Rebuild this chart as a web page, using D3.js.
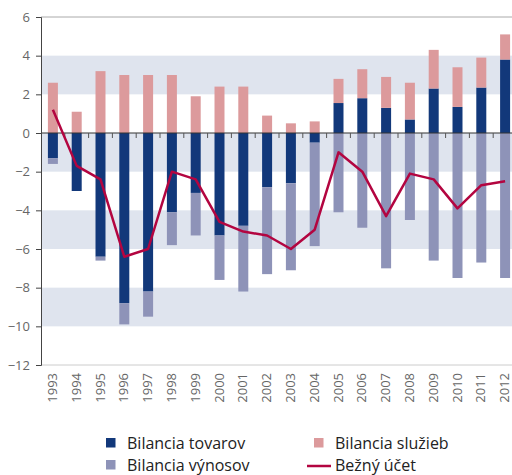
<!DOCTYPE html>
<html>
<head>
<meta charset="utf-8">
<script src="https://cdn.jsdelivr.net/npm/d3@7"></script>
<style>
  body { margin: 0; background: #fff; }
  text { font-family: 'Open Sans', sans-serif; }
</style>
</head>
<body>
<div id="chart"></div>
<script>
const years = ['1993', '1994', '1995', '1996', '1997', '1998', '1999', '2000', '2001', '2002',
  '2003', '2004', '2005', '2006', '2007', '2008', '2009', '2010', '2011', '2012']

const goods = [-1.3, -3.0, -6.4, -8.8, -8.2, -4.1, -3.1, -5.3, -4.8, -2.8,
  -2.6, -0.5, 1.55, 1.8, 1.3, 0.7, 2.3, 1.35, 2.35, 3.8]
const services = [2.6, 1.1, 3.2, 3.0, 3.0, 3.0, 1.9, 2.4, 2.4, 0.9,
  0.5, 0.6, 1.25, 1.5, 1.6, 1.9, 2.0, 2.05, 1.55, 1.3]
const income = [-0.3, 0, -0.2, -1.1, -1.3, -1.7, -2.2, -2.3, -3.4, -4.5,
  -4.5, -5.35, -4.1, -4.9, -7.0, -4.5, -6.6, -7.5, -6.7, -7.5]
const currentAccount = [1.2, -1.7, -2.4, -6.4, -6.0, -2.0, -2.4, -4.6, -5.1, -5.3,
  -6.0, -5.0, -1.0, -2.0, -4.3, -2.1, -2.4, -3.9, -2.7, -2.5]

const yTicks = [6, 4, 2, 0, -2, -4, -6, -8, -10, -12]
const bands = [[2, 4], [-2, 0], [-6, -4], [-10, -8]]

const colors = { goods: '#12387a', services: '#dc9a9c', income: '#8e93b8', line: '#b30540' }

const margin = { top: 17, left: 41, right: -5, bottom: 110 }
const width = 512 - margin.left - margin.right
const height = 475 - margin.top - margin.bottom

const svg = d3
  .select('#chart')
  .append('svg')
  .attr('width', 512)
  .attr('height', 475)

const g = svg
  .append('g')
  .attr('transform', 'translate(' + margin.left + ',' + margin.top + ')')

const x = d3.scaleBand().domain(years).range([0, width]).paddingInner(0.58).paddingOuter(0.29)
const xStep = d3.scaleBand().domain(years).range([0, width])
const y = d3.scaleLinear().domain([-12, 6]).range([height, 0])

// background bands
g.selectAll('.band')
  .data(bands)
  .enter()
  .append('rect')
  .attr('x', 0)
  .attr('width', width)
  .attr('y', d => y(d[1]))
  .attr('height', d => y(d[0]) - y(d[1]))
  .attr('fill', '#dfe4ee')

// top and bottom frame lines
g.append('line').attr('x1', 0).attr('x2', width).attr('y1', 0).attr('y2', 0)
  .attr('stroke', '#aaa').attr('stroke-width', 1)
g.append('line').attr('x1', 0).attr('x2', width).attr('y1', height).attr('y2', height)
  .attr('stroke', '#ccc').attr('stroke-width', 1)

const table = years.map((yr, i) => ({
  year: yr, goods: goods[i], services: services[i], income: income[i]
}))

const stack = d3.stack()
  .keys(['goods', 'services', 'income'])
  .offset(d3.stackOffsetDiverging)

const series = stack(table)

g.selectAll('.series')
  .data(series)
  .enter()
  .append('g')
  .attr('fill', d => colors[d.key])
  .selectAll('rect')
  .data(d => d)
  .enter()
  .append('rect')
  .attr('x', d => x(d.data.year))
  .attr('width', x.bandwidth())
  .attr('y', d => y(Math.max(d[0], d[1])))
  .attr('height', d => Math.abs(y(d[0]) - y(d[1])))

// zero line with ticks
g.append('line').attr('x1', 0).attr('x2', width).attr('y1', y(0)).attr('y2', y(0))
  .attr('stroke', '#333').attr('stroke-width', 1.2)
g.selectAll('.xtick')
  .data(years.slice(1))
  .enter()
  .append('line')
  .attr('x1', d => xStep(d))
  .attr('x2', d => xStep(d))
  .attr('y1', y(0))
  .attr('y2', y(0) + 5)
  .attr('stroke', '#555')

// current account line
const line = d3.line()
  .x((d, i) => x(years[i]) + x.bandwidth() / 2)
  .y(d => y(d))

g.append('path')
  .datum(currentAccount)
  .attr('d', line)
  .attr('fill', 'none')
  .attr('stroke', colors.line)
  .attr('stroke-width', 2.5)
  .attr('stroke-linejoin', 'round')

// y axis
const yAxis = g.append('g')
  .call(d3.axisLeft(y).tickValues(yTicks).tickSize(5).tickPadding(6).tickFormat(d3.format('d')))
yAxis.select('.domain').attr('stroke', '#444')
yAxis.selectAll('.tick line').attr('stroke', '#444')
yAxis.selectAll('text')
  .attr('font-size', 13)
  .attr('fill', '#666')
  .style('font-family', "'Open Sans', sans-serif")

// x labels
g.selectAll('.xlabel')
  .data(years)
  .enter()
  .append('text')
  .attr('transform', d => 'translate(' + (x(d) + x.bandwidth() / 2 + 4) + ',' + (height + 8) + ') rotate(-90)')
  .attr('text-anchor', 'end')
  .attr('font-size', 13)
  .attr('fill', '#666')
  .text(d => d)

// legend
const legend = svg.append('g')
const legendItems = [
  { label: 'Bilancia tovarov', color: colors.goods, type: 'rect', lx: 106, ly: 449 },
  { label: 'Bilancia služieb', color: colors.services, type: 'rect', lx: 314, ly: 449 },
  { label: 'Bilancia výnosov', color: colors.income, type: 'rect', lx: 106, ly: 471 },
  { label: 'Bežný účet', color: colors.line, type: 'line', lx: 314, ly: 471 }
]

legendItems.forEach(item => {
  if (item.type === 'rect') {
    legend.append('rect')
      .attr('x', item.lx).attr('y', item.ly - 11)
      .attr('width', 9.5).attr('height', 9.5)
      .attr('fill', item.color)
  } else {
    legend.append('line')
      .attr('x1', item.lx - 7).attr('x2', item.lx + 17)
      .attr('y1', item.ly - 5).attr('y2', item.ly - 5)
      .attr('stroke', item.color).attr('stroke-width', 2.5)
  }
  legend.append('text')
    .attr('x', item.lx + 21)
    .attr('y', item.ly)
    .attr('font-size', 16)
    .attr('fill', '#222')
    .text(item.label)
})
</script>
</body>
</html>
